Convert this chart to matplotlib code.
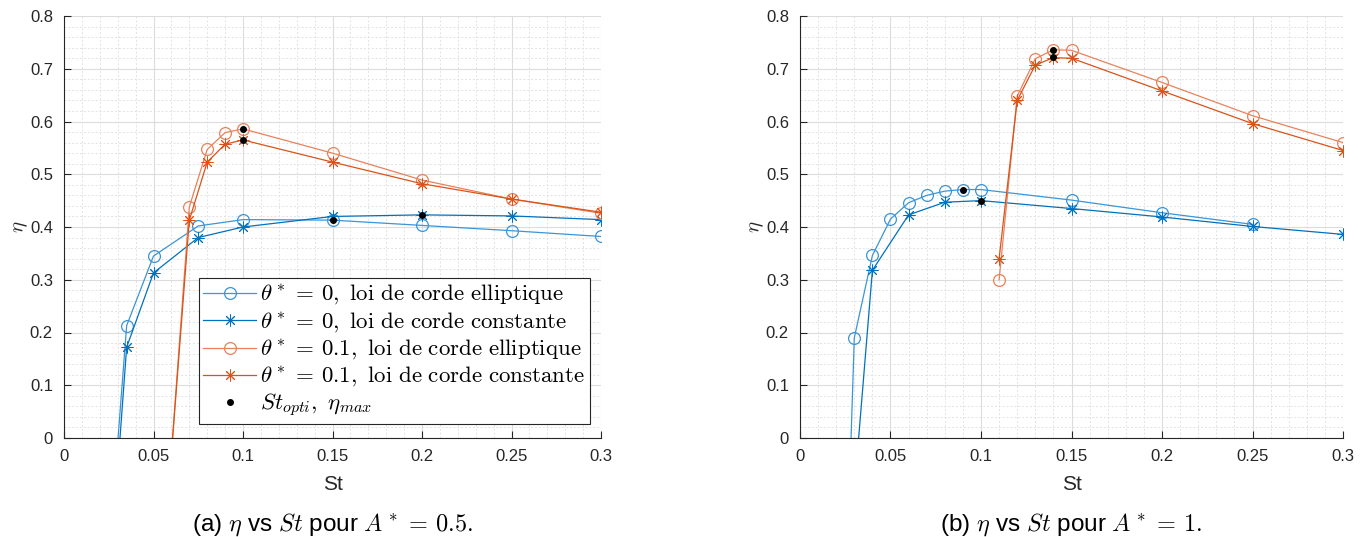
import matplotlib
matplotlib.use("Agg")
import matplotlib.pyplot as plt
from matplotlib.ticker import MultipleLocator

plt.rcParams['font.family'] = ['Liberation Sans', 'DejaVu Sans']
plt.rcParams['mathtext.fontset'] = 'cm'

# ---- A* = 0.5 ----
a_st_ell0 = [0.025, 0.035, 0.05, 0.075, 0.1, 0.15, 0.2, 0.25, 0.3]
a_eta_ell0 = [-0.23, 0.213, 0.345, 0.402, 0.414, 0.413, 0.403, 0.393, 0.382]
a_st_cst0 = [0.025, 0.035, 0.05, 0.075, 0.1, 0.15, 0.2, 0.25, 0.3]
a_eta_cst0 = [-0.29, 0.172, 0.313, 0.380, 0.400, 0.420, 0.423, 0.421, 0.414]
a_st_ell1 = [0.06, 0.07, 0.08, 0.09, 0.1, 0.15, 0.2, 0.25, 0.3]
a_eta_ell1 = [-0.03, 0.438, 0.547, 0.579, 0.586, 0.540, 0.489, 0.453, 0.426]
a_st_cst1 = [0.06, 0.07, 0.08, 0.09, 0.1, 0.15, 0.2, 0.25, 0.3]
a_eta_cst1 = [-0.03, 0.413, 0.523, 0.557, 0.565, 0.523, 0.482, 0.453, 0.428]
a_st_opt = [0.1, 0.1, 0.15, 0.2]
a_eta_opt = [0.586, 0.565, 0.414, 0.423]

# ---- A* = 1 ----
b_st_ell0 = [0.025, 0.03, 0.04, 0.05, 0.06, 0.07, 0.08, 0.09, 0.1, 0.15, 0.2, 0.25]
b_eta_ell0 = [-0.34, 0.190, 0.346, 0.415, 0.446, 0.460, 0.468, 0.471, 0.471, 0.451, 0.427, 0.405]
b_st_cst0 = [0.025, 0.04, 0.06, 0.08, 0.1, 0.15, 0.2, 0.25, 0.3]
b_eta_cst0 = [-0.31, 0.318, 0.423, 0.447, 0.450, 0.435, 0.419, 0.401, 0.386]
b_st_ell1 = [0.11, 0.12, 0.13, 0.14, 0.15, 0.2, 0.25, 0.3]
b_eta_ell1 = [0.300, 0.648, 0.719, 0.736, 0.735, 0.674, 0.611, 0.560]
b_st_cst1 = [0.11, 0.12, 0.13, 0.14, 0.15, 0.2, 0.25, 0.3]
b_eta_cst1 = [0.340, 0.640, 0.707, 0.721, 0.720, 0.658, 0.596, 0.545]
b_st_opt = [0.09, 0.1, 0.14, 0.14]
b_eta_opt = [0.471, 0.450, 0.736, 0.722]

labels = [r'$\theta^*\,=\,0,\ \mathrm{loi\ de\ corde\ elliptique}$',
          r'$\theta^*\,=\,0,\ \mathrm{loi\ de\ corde\ constante}$',
          r'$\theta^*\,=\,0.1,\ \mathrm{loi\ de\ corde\ elliptique}$',
          r'$\theta^*\,=\,0.1,\ \mathrm{loi\ de\ corde\ constante}$',
          r'$St_{opti},\ \eta_{max}$']
captions = [r'(a) $\eta$ vs $St$ pour $A^*\,=\,0.5.$',
            r'(b) $\eta$ vs $St$ pour $A^*\,=\,1.$']

blue = '#0072BD'
blue_l = '#3b95d6'
orange = '#D95319'
orange_l = '#E8825A'
star = (8, 2, 0)
axcol = '#262626'

fig = plt.figure(figsize=(13.7, 5.37), dpi=100)
ax1 = fig.add_axes([64 / 1370, 1 - 438 / 537, 537 / 1370, 422 / 537])
ax2 = fig.add_axes([800 / 1370, 1 - 438 / 537, 543 / 1370, 422 / 537])

data = [
    (ax1, a_st_ell0, a_eta_ell0, a_st_cst0, a_eta_cst0, a_st_ell1, a_eta_ell1,
     a_st_cst1, a_eta_cst1, a_st_opt, a_eta_opt),
    (ax2, b_st_ell0, b_eta_ell0, b_st_cst0, b_eta_cst0, b_st_ell1, b_eta_ell1,
     b_st_cst1, b_eta_cst1, b_st_opt, b_eta_opt),
]

lw = 0.9
ms = 8.5
for k, (ax, x1, y1, x2, y2, x3, y3, x4, y4, xo, yo) in enumerate(data):
    ax.plot(x1, y1, color=blue_l, marker='o', markerfacecolor='none', lw=lw, ms=ms, mew=0.9, label=labels[0])
    ax.plot(x2, y2, color=blue, marker=star, lw=lw, ms=ms, mew=0.7, label=labels[1])
    ax.plot(x3, y3, color=orange_l, marker='o', markerfacecolor='none', lw=lw, ms=ms, mew=0.9, label=labels[2])
    ax.plot(x4, y4, color=orange, marker=star, lw=lw, ms=ms, mew=0.7, label=labels[3])
    ax.plot(xo, yo, color='black', marker='.', ls='none', ms=8, label=labels[4], zorder=5)

    ax.set_xlim(0, 0.3)
    ax.set_ylim(0, 0.8)
    ax.xaxis.set_minor_locator(MultipleLocator(0.01))
    ax.yaxis.set_minor_locator(MultipleLocator(0.02))
    ax.set_xticks([0, 0.05, 0.1, 0.15, 0.2, 0.25, 0.3])
    ax.set_xticklabels(['0', '0.05', '0.1', '0.15', '0.2', '0.25', '0.3'])
    ax.set_yticks([0, 0.1, 0.2, 0.3, 0.4, 0.5, 0.6, 0.7, 0.8])
    ax.set_yticklabels(['0', '0.1', '0.2', '0.3', '0.4', '0.5', '0.6', '0.7', '0.8'])
    ax.grid(which='major', color='#dcdcdc', lw=0.8)
    ax.grid(which='minor', color='#e2e2e2', lw=0.7, ls=(0, (2, 2)))
    ax.set_axisbelow(True)
    for s in ['top', 'right']:
        ax.spines[s].set_visible(False)
    for s in ['left', 'bottom']:
        ax.spines[s].set_color(axcol)
        ax.spines[s].set_linewidth(0.8)
    ax.tick_params(which='major', direction='in', length=5, width=0.8, color=axcol,
                   labelsize=12, labelcolor=axcol, pad=8)
    ax.tick_params(which='minor', length=0)
    ax.set_xlabel('St', fontsize=15, color=axcol, labelpad=8)
    ax.set_ylabel(r'$\eta$', fontsize=15, color=axcol, labelpad=0)
    ax.text(0.5, -0.205, captions[k], transform=ax.transAxes, ha='center', va='center',
            fontsize=17.5)

leg = ax1.legend(loc='lower right', bbox_to_anchor=(590 / 1370, 1 - 424 / 537),
                 bbox_transform=fig.transFigure, fontsize=16.5, frameon=True,
                 fancybox=False, edgecolor=axcol, framealpha=1, borderpad=0.2,
                 labelspacing=0.13, handlelength=2.3, handletextpad=0.2, borderaxespad=0)
leg.get_frame().set_linewidth(0.8)

fig.savefig('out.png', dpi=100)
